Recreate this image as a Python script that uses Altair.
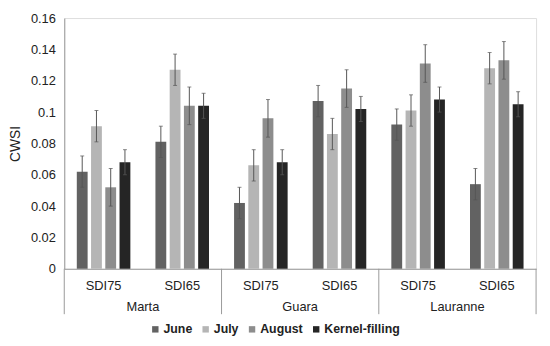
import altair as alt
import pandas as pd

cultivars = ["Marta", "Guara", "Lauranne"]
treatments = ["SDI75", "SDI65"]
periods = ["June", "July", "August", "Kernel-filling"]

# values in order: Marta SDI75, Marta SDI65, Guara SDI75, Guara SDI65, Lauranne SDI75, Lauranne SDI65
june = [0.062, 0.081, 0.042, 0.107, 0.092, 0.054]
july = [0.091, 0.127, 0.066, 0.086, 0.101, 0.128]
august = [0.052, 0.104, 0.096, 0.115, 0.131, 0.133]
kernel = [0.068, 0.104, 0.068, 0.102, 0.108, 0.105]

june_err = [0.010, 0.010, 0.010, 0.010, 0.010, 0.010]
july_err = [0.010, 0.010, 0.010, 0.010, 0.010, 0.010]
august_err = [0.012, 0.012, 0.012, 0.012, 0.012, 0.012]
kernel_err = [0.008, 0.008, 0.008, 0.008, 0.008, 0.008]

y_ticks = [0, 0.02, 0.04, 0.06, 0.08, 0.1, 0.12, 0.14, 0.16]

colors = ["#626262", "#b5b5b5", "#8d8d8d", "#252525"]

groups = [f"{c}|{t}" for c in cultivars for t in treatments]
series = {"June": (june, june_err), "July": (july, july_err),
          "August": (august, august_err), "Kernel-filling": (kernel, kernel_err)}

rows = []
for p in periods:
    vals, errs = series[p]
    for g, v, e in zip(groups, vals, errs):
        rows.append({"group": g, "period": p, "value": v, "lo": v - e, "hi": v + e})
df = pd.DataFrame(rows)

lab_df = pd.DataFrame({"group": [f"{c}|SDI75" for c in cultivars], "cultivar": cultivars})
sep_df = pd.DataFrame({"group": [f"{c}|SDI75" for c in cultivars]})
end_df = pd.DataFrame({"group": [groups[-1]]})

FONT = "Liberation Sans"
FS = 13
H = 254

yscale = alt.Scale(domain=[0, 0.16], nice=False)
xscale = alt.Scale(domain=groups, paddingInner=0, paddingOuter=0)
xoff_scale = alt.Scale(domain=periods, paddingInner=0.24, paddingOuter=0.88)

x_axis = alt.Axis(title=None, labelExpr="split(datum.label, '|')[1]",
                  ticks=False, labelAngle=0, labelPadding=11,
                  labelFontSize=FS, labelFont=FONT, labelColor="#222222",
                  domainColor="#999999")
y_axis = alt.Axis(title="CWSI", format=".2~f", values=y_ticks, labelOverlap=False,
                  labelFlush=False, ticks=False, grid=False, labelPadding=9,
                  labelFontSize=FS, labelFont=FONT, labelColor="#222222",
                  titleFont=FONT, titleFontSize=14, titleFontWeight="normal",
                  titleColor="#222222", titlePadding=8, domainColor="#999999")

def xenc(bp=None):
    if bp is None:
        return alt.X("group:N", scale=xscale, sort=groups, axis=x_axis)
    return alt.X("group:N", scale=xscale, sort=groups, axis=x_axis, bandPosition=bp)

def yenc(field):
    return alt.Y(field, scale=yscale, axis=y_axis)

xo = alt.XOffset("period:N", scale=xoff_scale, sort=periods)

bars = alt.Chart(df).mark_bar().encode(
    x=xenc(),
    xOffset=xo,
    y=yenc("value:Q"),
    color=alt.Color("period:N", sort=periods, scale=alt.Scale(domain=periods, range=colors),
                    legend=alt.Legend(title=None, orient="none", direction="horizontal",
                                      legendX=86, legendY=309, symbolType="square",
                                      symbolSize=42, symbolStrokeWidth=0,
                                      labelFont=FONT, labelFontSize=12.5, labelFontWeight="bold",
                                      labelColor="#222222", columnPadding=7, labelOffset=2)),
)

err = alt.Chart(df).mark_rule(color="#555555", strokeWidth=1).encode(
    x=xenc(), xOffset=xo, y=yenc("lo:Q"), y2="hi:Q")
cap_hi = alt.Chart(df).mark_tick(color="#555555", thickness=1, size=4).encode(
    x=xenc(), xOffset=xo, y=yenc("hi:Q"))
cap_lo = alt.Chart(df).mark_tick(color="#555555", thickness=1, size=4).encode(
    x=xenc(), xOffset=xo, y=yenc("lo:Q"))

seps = alt.Chart(sep_df).mark_rule(color="#999999", strokeWidth=1).encode(
    x=xenc(0), y=alt.datum(0, scale=yscale, axis=y_axis), y2=alt.value(H + 46))
end_sep = alt.Chart(end_df).mark_rule(color="#999999", strokeWidth=1).encode(
    x=xenc(1), y=alt.datum(0, scale=yscale, axis=y_axis), y2=alt.value(H + 46))

labels = alt.Chart(lab_df).mark_text(font=FONT, fontSize=FS, color="#222222", baseline="middle").encode(
    x=xenc(1), y=alt.value(H + 39), text="cultivar:N")

chart = alt.layer(bars, err, cap_hi, cap_lo, seps, end_sep, labels).properties(
    width=478, height=H, padding={"left": 0, "top": 2, "right": 5, "bottom": 5}
).configure_view(stroke=None).configure(background="white")

chart.save("out.html", embed_options={"renderer": "svg", "actions": False})
